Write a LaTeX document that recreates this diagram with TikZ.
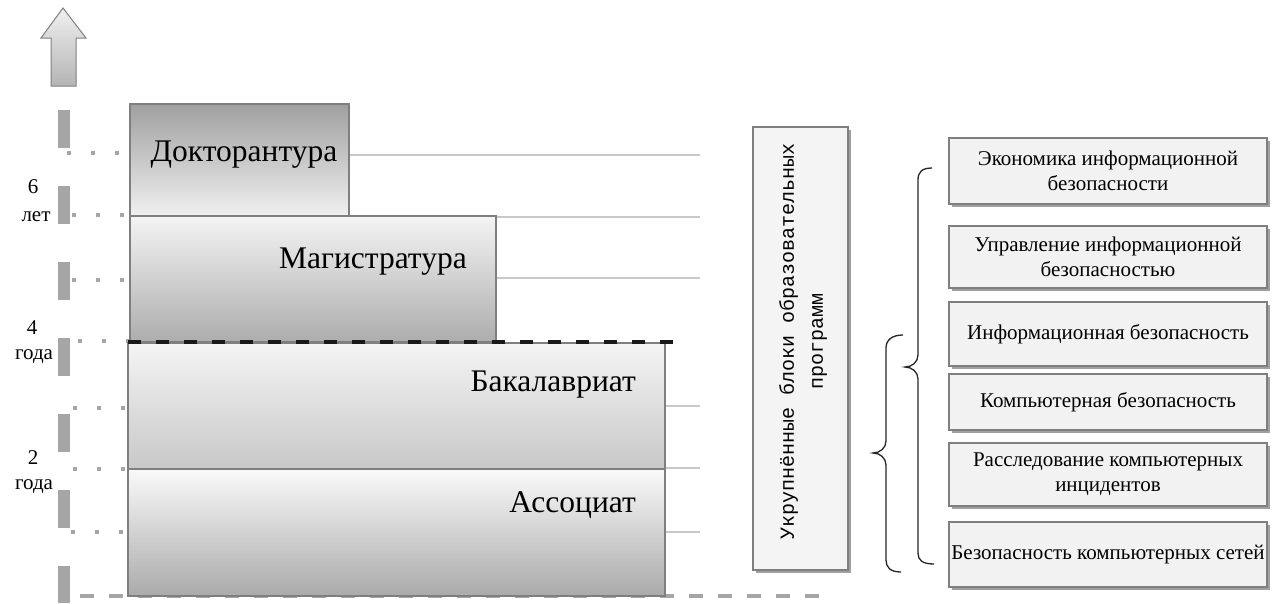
\documentclass[tikz,border=0pt]{standalone}
\usepackage{fontspec}
\setmainfont{Liberation Serif}
\newfontfamily\monofont{Liberation Mono}
\usetikzlibrary{shadows}
\definecolor{axisgray}{HTML}{A6A6A6}
\definecolor{linegray}{HTML}{C8C8C8}
\definecolor{bordergray}{HTML}{7F7F7F}
\definecolor{dokTop}{HTML}{A0A0A0}
\definecolor{dokBot}{HTML}{F0F0F0}
\definecolor{lightTop}{HTML}{F4F4F4}
\definecolor{magBot}{HTML}{ADADAD}
\definecolor{bakBot}{HTML}{C8C8C8}
\definecolor{assBot}{HTML}{AAAAAA}
\definecolor{boxfill}{HTML}{F2F2F2}
\definecolor{shadowgray}{HTML}{A0A0A0}
\definecolor{arrowTop}{HTML}{F0F0F0}
\definecolor{arrowBot}{HTML}{B4B4B4}
\begin{document}
\begin{tikzpicture}[x=1pt,y=-1pt,
  level/.style={draw=bordergray, line width=1.3pt, inner sep=0pt},
  lvltext/.style={font=\fontsize{31.5}{36}\selectfont, inner sep=0pt},
  yearlbl/.style={font=\fontsize{21}{24}\selectfont, inner sep=0pt},
  dotrow/.style={axisgray, line width=4pt, dash pattern=on 4pt off 20pt},
  guide/.style={linegray, line width=2.5pt},
  progbox/.style={draw=bordergray, fill=boxfill, line width=1.2pt, minimum width=318pt,
    align=center, inner sep=0pt, font=\fontsize{21}{25}\selectfont,
    drop shadow={shadow xshift=3pt, shadow yshift=-3pt, fill=shadowgray, opacity=1}},
  brace/.style={black!85, line width=1.3pt}
]
\useasboundingbox (0,0) rectangle (1273,603);

% up arrow
\draw[bordergray, line width=1pt, top color=arrowTop, bottom color=arrowBot]
  (63,8) -- (86,38) -- (76,38) -- (76,86) -- (51,86) -- (51,38) -- (41,38) -- cycle;

% dotted rows
\foreach \yy/\xs in {153/67,215/72,280/72,341/78,408/73,469/73,532/71}
  \draw[dotrow] (\xs,\yy) -- (\xs+56,\yy);

% vertical dashed axis
\draw[axisgray, line width=12pt, dash pattern=on 38pt off 38pt] (64,110) -- (64,603);

% guide lines to the right
\draw[guide] (349,155) -- (700,155);
\draw[guide] (496,217) -- (700,217);
\draw[guide] (496,278) -- (700,278);
\draw[guide] (665,406) -- (700,406);
\draw[guide] (665,468) -- (700,468);
\draw[guide] (665,532) -- (700,532);

% bottom dashed line
\draw[axisgray, line width=4pt, dash pattern=on 14pt off 15pt] (80,596) -- (823,596);

% level boxes
\node[level, minimum width=219pt, minimum height=112pt, top color=dokTop, bottom color=dokBot] (dok) at (239.5,160) {};
\node[level, minimum width=366pt, minimum height=126pt, top color=lightTop, bottom color=magBot] (mag) at (313,279) {};
\node[level, minimum width=537pt, minimum height=126pt, top color=lightTop, bottom color=bakBot] (bak) at (396.5,406) {};
\node[level, minimum width=537pt, minimum height=127pt, top color=white!98!black, bottom color=assBot] (ass) at (396.5,532.5) {};

\node[lvltext] (dokT) at (244,155) {Докторантура};
\node[lvltext, anchor=east] (magT) at (467,262) {Магистратура};
\node[lvltext, anchor=east] (bakT) at (636,385) {Бакалавриат};
\node[lvltext, anchor=east] (assT) at (636,505) {Ассоциат};

% black dashed line
\draw[black!90, line width=4pt, dash pattern=on 13pt off 15pt] (128,342) -- (683,342);

% year labels
\node[yearlbl] (y6) at (33,187) {6};
\node[yearlbl] (y6b) at (36,217) {лет};
\node[yearlbl] (y4) at (32,328) {4};
\node[yearlbl] (y4b) at (34,357) {года};
\node[yearlbl] (y2) at (33,458) {2};
\node[yearlbl] (y2b) at (34,487) {года};

% vertical box
\node[draw=bordergray, fill=lightTop, line width=1.2pt, minimum width=95pt, minimum height=443pt,
  drop shadow={shadow xshift=3pt, shadow yshift=-3pt, fill=shadowgray, opacity=1}] (vbox) at (800.5,348.5) {};
\node[rotate=90, align=center, font=\monofont\fontsize{20}{29}\selectfont, inner sep=0pt] (vtext) at (803,341)
  {Укрупнённые блоки образовательных\\программ};

% program boxes
\node[progbox, minimum height=66pt] (p1) at (1108,171) {Экономика информационной\\безопасности};
\node[progbox, minimum height=62pt] (p2) at (1108,257) {Управление информационной\\безопасностью};
\node[progbox, minimum height=64pt] (p3) at (1108,334) {Информационная безопасность};
\node[progbox, minimum height=56pt] (p4) at (1108,402) {Компьютерная безопасность};
\node[progbox, minimum height=63pt] (p5) at (1108,474.5) {Расследование компьютерных\\инцидентов};
\node[progbox, minimum height=65pt] (p6) at (1108,554.5) {Безопасность компьютерных сетей};

% braces
\draw[brace] (932,168) .. controls (922,168) and (918,172) .. (918,180) -- (918,355)
  .. controls (918,362) and (912,367) .. (905,367)
  .. controls (912,367) and (918,372) .. (918,379) -- (918,553)
  .. controls (918,560) and (922,564) .. (934,564);
\draw[brace] (903,335) .. controls (892,335) and (886,340) .. (886,348) -- (886,441)
  .. controls (886,448) and (880,453) .. (873,453)
  .. controls (880,453) and (886,458) .. (886,465) -- (886,560)
  .. controls (886,567) and (890,572) .. (901,572);
\end{tikzpicture}
\end{document}
